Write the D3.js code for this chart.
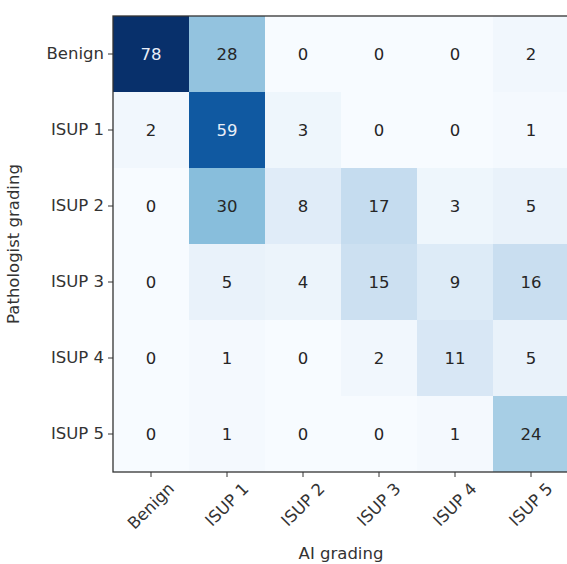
<!DOCTYPE html>
<html>
<head>
<meta charset="utf-8">
<script src="https://cdn.jsdelivr.net/npm/d3@7"></script>
<style>
  html, body { margin: 0; padding: 0; background: #fff; overflow: hidden; }
  svg { display: block; font-family: "DejaVu Sans", sans-serif; }
</style>
</head>
<body>
<svg id="chart" width="567" height="564"></svg>
<script>
const categories = ["Benign", "ISUP 1", "ISUP 2", "ISUP 3", "ISUP 4", "ISUP 5"];
const rowLabels = categories; // Pathologist grading
const colLabels = categories; // AI grading
const counts = [
  [78, 28, 0, 0, 0, 2],
  [2, 59, 3, 0, 0, 1],
  [0, 30, 8, 17, 3, 5],
  [0, 5, 4, 15, 9, 16],
  [0, 1, 0, 2, 11, 5],
  [0, 1, 0, 0, 1, 24]
];
const xTitle = "AI grading";
const yTitle = "Pathologist grading";

const svg = d3.select("#chart");
const margin = { left: 113, top: 16 };
const size = 456;
const fs = 16.5;

const x = d3.scaleBand().domain(colLabels).range([margin.left, margin.left + size]);
const y = d3.scaleBand().domain(rowLabels).range([margin.top, margin.top + size]);
const maxVal = d3.max(counts.flat());
const color = d3.scaleSequential(d3.interpolateBlues).domain([0, 70]).clamp(true);

const cells = [];
counts.forEach((row, i) => row.forEach((v, j) => cells.push({ r: rowLabels[i], c: colLabels[j], v })));

svg.append("g").selectAll("rect").data(cells).join("rect")
  .attr("x", d => x(d.c)).attr("y", d => y(d.r))
  .attr("width", x.bandwidth()).attr("height", y.bandwidth())
  .attr("fill", d => color(d.v));

svg.append("g").selectAll("text").data(cells).join("text")
  .attr("x", d => x(d.c) + x.bandwidth() / 2)
  .attr("y", d => y(d.r) + y.bandwidth() / 2)
  .attr("text-anchor", "middle").attr("dominant-baseline", "central")
  .attr("font-size", fs)
  .attr("fill", d => d.v > maxVal / 2 ? "#e8eef8" : "#262626")
  .text(d => d.v);

// frame
svg.append("rect")
  .attr("x", margin.left).attr("y", margin.top)
  .attr("width", size).attr("height", size)
  .attr("fill", "none").attr("stroke", "#333").attr("stroke-width", 1.3);

// y axis
const yAxis = svg.append("g").attr("transform", `translate(${margin.left},0)`)
  .call(d3.axisLeft(y).tickSize(5).tickPadding(4));
yAxis.select(".domain").remove();
yAxis.selectAll("line").attr("stroke", "#333");
yAxis.selectAll("text").attr("font-size", fs).attr("fill", "#333").attr("font-family", "DejaVu Sans");

// x axis
const xAxis = svg.append("g").attr("transform", `translate(0,${margin.top + size})`)
  .call(d3.axisBottom(x).tickSize(5).tickPadding(4));
xAxis.select(".domain").remove();
xAxis.selectAll("line").attr("stroke", "#333");
xAxis.selectAll("text").attr("font-size", fs).attr("fill", "#333").attr("font-family", "DejaVu Sans")
  .each(function () {
    const t = d3.select(this);
    const w = this.getComputedTextLength();
    const h = fs * 1.0;
    const half = (w + h) * Math.SQRT1_2 / 2;
    t.attr("y", null).attr("dy", null)
      .attr("text-anchor", "middle").attr("dominant-baseline", "central")
      .attr("transform", `translate(0,${8 + half}) rotate(-45)`);
  });

svg.append("text")
  .attr("x", margin.left + size / 2).attr("y", 553)
  .attr("text-anchor", "middle").attr("dominant-baseline", "central")
  .attr("font-size", fs).attr("fill", "#333").text(xTitle);

svg.append("text")
  .attr("transform", `translate(13,${margin.top + size / 2}) rotate(-90)`)
  .attr("text-anchor", "middle").attr("dominant-baseline", "central")
  .attr("font-size", fs).attr("fill", "#333").text(yTitle);
</script>
</body>
</html>
